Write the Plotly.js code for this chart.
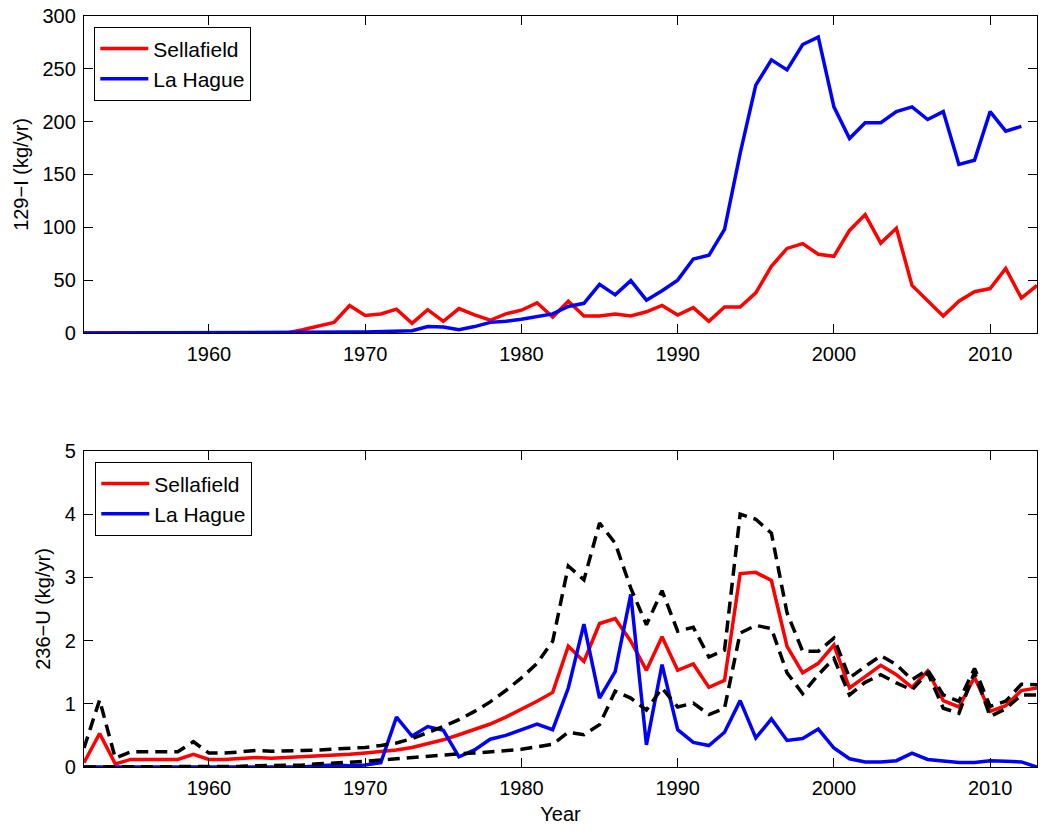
<!DOCTYPE html>
<html>
<head>
<meta charset="utf-8">
<script src="https://cdn.plot.ly/plotly-3.0.1.min.js"></script>
<style>
  html, body { margin: 0; padding: 0; background: #fff; }
  #chart { width: 1040px; height: 832px; }
</style>
</head>
<body>
<div id="chart"></div>
<script>
// Years 1952..2013
const years = [];
for (let y = 1952; y <= 2013; y++) years.push(y);

// 129-I discharges (kg/yr)
const iodineSellafield = [
  0, 0, 0, 0, 0, 0, 0, 0, 0, 0, 0, 0, 0, 0,          // 1952-1965
  3, 6.5, 10, 26, 16.5, 18, 22.5, 9, 22, 11,          // 1966-1975
  23, 17, 12, 18, 21.5, 28.5, 15, 30, 16, 16,         // 1976-1985
  18, 16, 20, 26, 17, 24, 11, 24.5, 24.5, 38,         // 1986-1995
  63, 80, 84.5, 74.5, 72.5, 97, 112, 85, 99, 45,      // 1996-2005
  31, 16, 30, 39, 42, 61, 33, 45                      // 2006-2013
];
const iodineLaHague = [
  0, 0, 0, 0, 0, 0, 0, 0, 0, 0, 0, 0, 0, 0,          // 1952-1965
  0.2, 0.4, 0.6, 0.8, 0.9, 1.5, 2, 2, 6, 5.5,         // 1966-1975
  3, 6, 10, 11, 13, 15.5, 18, 25, 28, 46,             // 1976-1985
  36, 49.5, 31, 40, 50, 70, 73.5, 98, 170, 234.5,     // 1986-1995
  258.5, 249, 273, 280, 214, 184, 199, 199, 209.5, 214, // 1996-2005
  202, 209.5, 159.5, 163.5, 209.5, 191, 195.5, null   // 2006-2013
];

// 236-U discharges (kg/yr)
const uraniumSellafield = [
  0.07, 0.53, 0.05, 0.12, 0.12, 0.12, 0.12, 0.2, 0.12, 0.12,   // 1952-1961
  0.13, 0.15, 0.14, 0.15, 0.16, 0.17, 0.18, 0.2, 0.22, 0.24,   // 1962-1971
  0.27, 0.31, 0.37, 0.43, 0.51, 0.59, 0.68, 0.79, 0.91, 1.04,  // 1972-1981
  1.18, 1.91, 1.67, 2.27, 2.35, 1.99, 1.53, 2.06, 1.53, 1.63,  // 1982-1991
  1.26, 1.37, 3.06, 3.08, 2.95, 1.91, 1.49, 1.64, 1.93, 1.25,  // 1992-2001
  1.43, 1.61, 1.46, 1.26, 1.52, 1.05, 0.95, 1.42, 0.88, 0.97,  // 2002-2011
  1.21, 1.25                                                   // 2012-2013
];
const uraniumLaHague = [
  0, 0, 0, 0, 0, 0, 0, 0, 0, 0,                                // 1952-1961
  0, 0, 0, 0, 0, 0.02, 0.03, 0.02, 0.03, 0.07,                 // 1962-1971
  0.79, 0.49, 0.64, 0.58, 0.16, 0.27, 0.44, 0.5, 0.59, 0.68,   // 1972-1981
  0.59, 1.25, 2.26, 1.09, 1.51, 2.73, 0.35, 1.62, 0.59, 0.39,  // 1982-1991
  0.34, 0.55, 1.05, 0.46, 0.76, 0.42, 0.45, 0.6, 0.3, 0.13,    // 1992-2001
  0.08, 0.08, 0.1, 0.22, 0.12, 0.1, 0.07, 0.07, 0.1, 0.09,     // 2002-2011
  0.08, 0                                                      // 2012-2013
];
const uraniumSellafieldUpper = [
  0.3, 1.06, 0.14, 0.24, 0.24, 0.24, 0.24, 0.4, 0.22, 0.22,    // 1952-1961
  0.24, 0.26, 0.25, 0.25, 0.26, 0.27, 0.28, 0.29, 0.31, 0.34,  // 1962-1971
  0.38, 0.45, 0.54, 0.64, 0.75, 0.88, 1.03, 1.21, 1.41, 1.64,  // 1972-1981
  1.99, 3.18, 2.96, 3.86, 3.54, 2.83, 2.25, 2.79, 2.15, 2.21,  // 1982-1991
  1.74, 1.85, 4.0, 3.92, 3.7, 2.44, 1.83, 1.83, 2.04, 1.41,    // 1992-2001
  1.59, 1.76, 1.62, 1.38, 1.54, 1.14, 1.04, 1.56, 0.96, 1.04,  // 2002-2011
  1.31, 1.3                                                    // 2012-2013
];
const uraniumSellafieldLower = [
  0, 0, 0, 0, 0, 0, 0, 0, 0.01, 0.01,                          // 1952-1961
  0.01, 0.02, 0.02, 0.02, 0.03, 0.05, 0.06, 0.07, 0.09, 0.11,  // 1962-1971
  0.13, 0.15, 0.18, 0.2, 0.21, 0.22, 0.24, 0.26, 0.28, 0.32,   // 1972-1981
  0.36, 0.55, 0.51, 0.67, 1.2, 1.09, 0.9, 1.25, 0.95, 1.01,    // 1982-1991
  0.83, 0.93, 2.12, 2.24, 2.19, 1.49, 1.16, 1.46, 1.72, 1.14,  // 1992-2001
  1.34, 1.46, 1.33, 1.22, 1.49, 0.93, 0.85, 1.5, 0.8, 0.92,    // 2002-2011
  1.14, 1.14                                                   // 2012-2013
];

const xTicks = [1960, 1970, 1980, 1990, 2000, 2010];
const seriesNames = ['Sellafield', 'La Hague'];

const RED = '#ff0000', BLUE = '#0000ff';
const LW = 3.5;
const FONT = 'Liberation Sans, Arial, Helvetica, sans-serif';

const traces = [
  { x: years, y: iodineSellafield, name: seriesNames[0], type: 'scatter', mode: 'lines',
    line: { color: RED, width: LW }, xaxis: 'x', yaxis: 'y', legend: 'legend' },
  { x: years, y: iodineLaHague, name: seriesNames[1], type: 'scatter', mode: 'lines',
    line: { color: BLUE, width: LW }, xaxis: 'x', yaxis: 'y', legend: 'legend' },
  { x: years, y: uraniumSellafield, name: seriesNames[0], type: 'scatter', mode: 'lines',
    line: { color: RED, width: LW }, xaxis: 'x2', yaxis: 'y2', legend: 'legend2' },
  { x: years, y: uraniumLaHague, name: seriesNames[1], type: 'scatter', mode: 'lines',
    line: { color: BLUE, width: LW }, xaxis: 'x2', yaxis: 'y2', legend: 'legend2' },
  { x: years, y: uraniumSellafieldUpper, name: 'upper', type: 'scatter', mode: 'lines', showlegend: false,
    line: { color: '#000', width: LW, dash: '12px,7px' }, xaxis: 'x2', yaxis: 'y2' },
  { x: years, y: uraniumSellafieldLower, name: 'lower', type: 'scatter', mode: 'lines', showlegend: false,
    line: { color: '#000', width: LW, dash: '12px,7px' }, xaxis: 'x2', yaxis: 'y2' }
];

const axisCommon = {
  showline: true, linecolor: '#000', linewidth: 1.3, mirror: 'ticks',
  ticks: 'inside', ticklen: 9, tickwidth: 1, tickcolor: '#000',
  showgrid: false, zeroline: false,
  tickfont: { family: FONT, size: 20, color: '#000' }
};

const legendCommon = {
  xanchor: 'left', yanchor: 'top',
  bgcolor: '#fff', bordercolor: '#000', borderwidth: 1.3,
  font: { family: FONT, size: 21, color: '#000' }, tracegroupgap: 0, itemwidth: 48
};

const layout = {
  width: 1040, height: 832,
  margin: { l: 84, r: 3, t: 16, b: 65 },
  paper_bgcolor: '#fff', plot_bgcolor: '#fff',
  font: { family: FONT, size: 20, color: '#000' },
  xaxis: Object.assign({}, axisCommon, {
    domain: [0, 1], anchor: 'y', range: [1952, 2013], tickvals: xTicks,
    ticklabelstandoff: 3
  }),
  yaxis: Object.assign({}, axisCommon, {
    domain: [0.578, 1], anchor: 'x', range: [0, 300], dtick: 50, tick0: 0,
    ticklabelstandoff: 3,
    title: { text: '129\u2212I (kg/yr)', font: { family: FONT, size: 20 }, standoff: 8 }
  }),
  xaxis2: Object.assign({}, axisCommon, {
    domain: [0, 1], anchor: 'y2', range: [1952, 2013], tickvals: xTicks,
    ticklabelstandoff: 3,
    title: { text: 'Year', font: { family: FONT, size: 20 }, standoff: 8 }
  }),
  yaxis2: Object.assign({}, axisCommon, {
    domain: [0, 0.4208], anchor: 'x2', range: [0, 5], dtick: 1, tick0: 0,
    ticklabelstandoff: 3,
    title: { text: '236\u2212U (kg/yr)', font: { family: FONT, size: 20 }, standoff: 8 }
  }),
  legend: Object.assign({}, legendCommon, { x: 0.0105, y: 0.9854 }),
  legend2: Object.assign({}, legendCommon, { x: 0.0115, y: 0.4061 }),
  showlegend: true
};

Plotly.newPlot('chart', traces, layout, { displayModeBar: false, responsive: false });
</script>
</body>
</html>
